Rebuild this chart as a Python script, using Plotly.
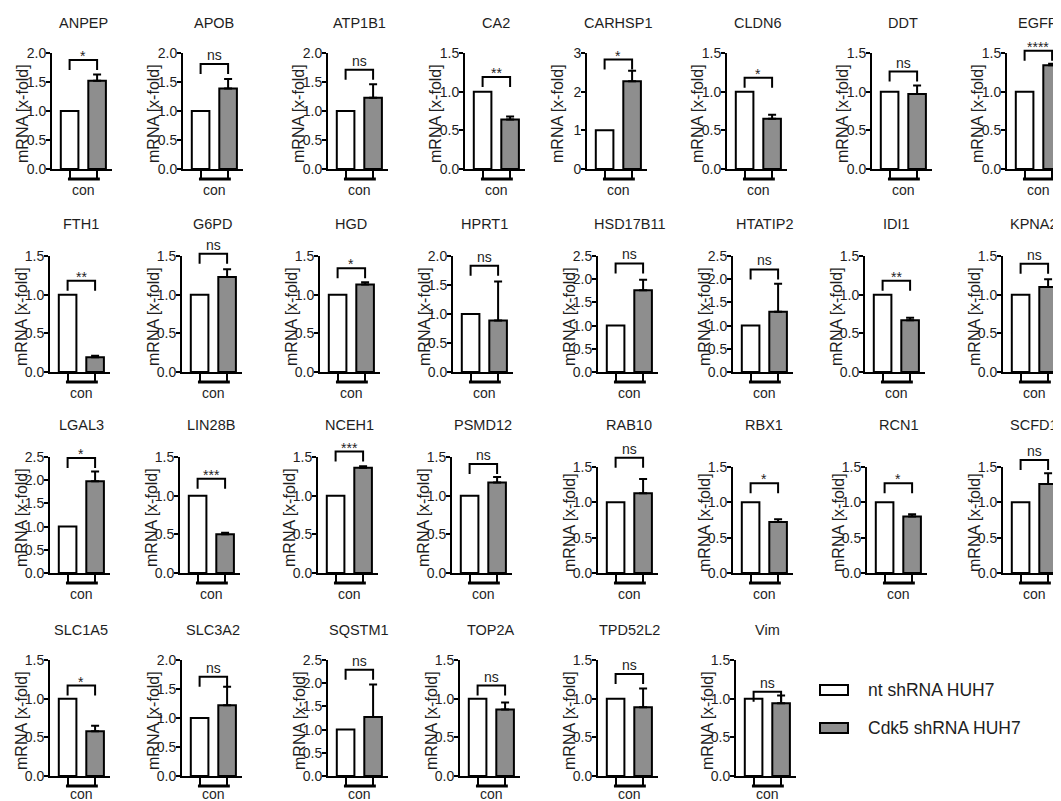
import plotly.graph_objects as go

# ---------------- data ----------------
genes = ["ANPEP", "APOB", "ATP1B1", "CA2", "CARHSP1", "CLDN6", "DDT", "EGFR",
         "FTH1", "G6PD", "HGD", "HPRT1", "HSD17B11", "HTATIP2", "IDI1", "KPNA2",
         "LGAL3", "LIN28B", "NCEH1", "PSMD12", "RAB10", "RBX1", "RCN1", "SCFD1",
         "SLC1A5", "SLC3A2", "SQSTM1", "TOP2A", "TPD52L2", "Vim"]
nt_values = [1.0] * 30
cdk5_values = [1.52, 1.39, 1.23, 0.64, 2.27, 0.65, 0.97, 1.34,
               0.19, 1.23, 1.13, 0.89, 1.76, 1.30, 0.67, 1.10,
               1.98, 0.50, 1.36, 1.17, 1.13, 0.72, 0.80, 1.26,
               0.58, 1.22, 1.27, 0.86, 0.89, 0.94]
cdk5_err = [0.11, 0.16, 0.23, 0.04, 0.27, 0.05, 0.11, 0.02,
            0.02, 0.10, 0.03, 0.67, 0.23, 0.60, 0.03, 0.10,
            0.21, 0.02, 0.02, 0.07, 0.20, 0.04, 0.03, 0.15,
            0.07, 0.32, 0.70, 0.09, 0.24, 0.10]
significance = ["*", "ns", "ns", "**", "*", "*", "ns", "****",
                "**", "ns", "*", "ns", "ns", "ns", "**", "ns",
                "*", "***", "***", "ns", "ns", "*", "*", "ns",
                "*", "ns", "ns", "ns", "ns", "ns"]
y_max = [2.0, 2.0, 2.0, 1.5, 3, 1.5, 1.5, 1.5,
         1.5, 1.5, 1.5, 2.0, 2.5, 2.5, 1.5, 1.5,
         2.5, 1.5, 1.5, 1.5, 1.5, 1.5, 1.5, 1.5,
         1.5, 2.0, 2.5, 1.5, 1.5, 1.5]
bracket_level = [1.88, 1.81, 1.71, 1.19, 2.83, 1.18, 1.26, 1.53,
                 1.18, 1.53, 1.34, 1.83, 2.34, 2.21, 1.18, 1.40,
                 2.48, 1.22, 1.57, 1.41, 1.63, 1.27, 1.27, 1.60,
                 1.17, 1.71, 2.29, 1.17, 1.32, 1.09]
group_label = "con"
series_names = ["nt shRNA HUH7", "Cdk5 shRNA HUH7"]

# ---------------- layout (screen pixels) ----------------
W, H = 1061, 801
OFF = 8  # page body margin of the html page
row_x = [[52, 183, 328, 465, 587, 727, 872, 1007],
         [50, 182, 320, 453, 598, 733, 865, 1003],
         [50, 180, 318, 452, 598, 733, 867, 1003],
         [50, 182, 328, 460, 598, 736]]
row_top = [[53] * 8, [256] * 8, [457] * 4 + [467] * 4, [660] * 6]
row_bottom = [169, 372, 573, 776]
row_title = [23, 224, 425, 630]
row_con_drop = [21, 21, 21, 18]

FONT = "Arial, 'Liberation Sans', Helvetica, sans-serif"
TXT = "#1e1e1e"
GRAY = "#8e8e8e"
PX_PER_UNIT = 27.5
XMIN = -0.64
PANEL_W = 60


def px_x(v):
    return (v - OFF) / W


def px_y(v):
    return 1 - (v - OFF) / H


fig = go.Figure()
layout = dict(width=W, height=H, margin=dict(l=0, r=0, t=0, b=0, autoexpand=False),
              paper_bgcolor="white", plot_bgcolor="white",
              showlegend=False, font=dict(family=FONT, color=TXT))
annotations = []
shapes = []

idx = 0
for r, xs in enumerate(row_x):
    for c, ax_px in enumerate(xs):
        i = idx
        n = i + 1
        xname = "x" if n == 1 else f"x{n}"
        yname = "y" if n == 1 else f"y{n}"
        top = row_top[r][c]
        bot = row_bottom[r]
        h_px = bot - top
        x0d = px_x(ax_px)
        x1d = min(1.0, px_x(ax_px + PANEL_W))
        w_px = (x1d - x0d) * W
        xmax = XMIN + w_px / PX_PER_UNIT
        ymx = y_max[i]

        layout["xaxis" if n == 1 else f"xaxis{n}"] = dict(
            domain=[x0d, x1d], range=[XMIN, xmax], anchor=yname, automargin=False,
            showline=True, linewidth=2, linecolor="black", showgrid=False,
            zeroline=False, ticks="outside", tickvals=[0, 1], ticklen=9,
            tickwidth=2, tickcolor="black", showticklabels=False, fixedrange=True)
        layout["yaxis" if n == 1 else f"yaxis{n}"] = dict(
            domain=[px_y(bot), px_y(top)], range=[0, ymx], anchor=xname,
            automargin=False,
            showline=True, linewidth=2, linecolor="black", showgrid=False,
            zeroline=False, ticks="outside", ticklen=4, tickwidth=2,
            tickcolor="black", dtick=1 if ymx == 3 else 0.5,
            tickformat="d" if ymx == 3 else ".1f", ticklabelstandoff=-3,
            tickfont=dict(size=14, family=FONT, color=TXT), fixedrange=True)

        # bars
        fig.add_trace(go.Bar(x=[0], y=[nt_values[i]], width=0.64,
                             marker=dict(color="white", line=dict(color="black", width=2)),
                             xaxis=xname, yaxis=yname, name=series_names[0],
                             hoverinfo="skip"))
        fig.add_trace(go.Bar(x=[1], y=[cdk5_values[i]], width=0.64,
                             marker=dict(color=GRAY, line=dict(color="black", width=2)),
                             error_y=dict(type="data", symmetric=False,
                                          array=[cdk5_err[i]], arrayminus=[0],
                                          color="black", thickness=2, width=4),
                             xaxis=xname, yaxis=yname, name=series_names[1],
                             hoverinfo="skip"))

        # helpers: data -> axis-domain fraction (for unclipped annotations)
        def dx(v, xmax=xmax):
            return (v - XMIN) / (xmax - XMIN)

        def dy(v, ymx=ymx):
            return v / ymx

        xdr, ydr = f"{xname} domain", f"{yname} domain"
        # significance bracket
        b = bracket_level[i]
        leg_frac = 10 / h_px
        shapes.append(dict(type="path", xref=xdr, yref=ydr,
                           path=(f"M{dx(0)},{dy(b) - leg_frac} L{dx(0)},{dy(b)} "
                                 f"L{dx(1)},{dy(b)} L{dx(1)},{dy(b) - leg_frac}"),
                           line=dict(color="black", width=2)))
        sig = significance[i]
        star = sig != "ns"
        annotations.append(dict(text=sig, xref=xdr, yref=ydr, x=dx(0.5), y=dy(b),
                                xanchor="center", yanchor="bottom",
                                yshift=-6 if star else -1, showarrow=False,
                                font=dict(size=14, family=FONT, color=TXT)))
        # group underline + label
        shapes.append(dict(type="line", xref=xdr, yref=ydr,
                           x0=dx(-0.06), x1=dx(1.1), y0=-10 / h_px, y1=-10 / h_px,
                           line=dict(color="black", width=3)))
        annotations.append(dict(text=group_label, xref=xdr, yref=ydr, x=dx(0.5),
                                y=-row_con_drop[r] / h_px, xanchor="center",
                                yanchor="middle", showarrow=False,
                                font=dict(size=14, family=FONT, color=TXT)))

        # panel title
        annotations.append(dict(text=genes[i], xref="paper", yref="paper",
                                x=px_x(ax_px + (0.5 - XMIN) * PX_PER_UNIT),
                                y=px_y(row_title[r]), xanchor="center",
                                yanchor="middle", showarrow=False,
                                font=dict(size=14.5, family=FONT, color=TXT)))
        # y-axis title
        annotations.append(dict(text="mRNA [x-fold]", xref="paper", yref="paper",
                                x=px_x(ax_px - 29), y=px_y((top + bot) / 2 + 3),
                                xanchor="center", yanchor="middle", textangle=-90,
                                showarrow=False,
                                font=dict(size=16, family=FONT, color=TXT)))
        idx += 1

# legend (drawn manually to match the wide swatches)
leg_items = [(series_names[0], "white", 690), (series_names[1], GRAY, 728)]
for name, col, yc in leg_items:
    shapes.append(dict(type="rect", xref="paper", yref="paper",
                       x0=px_x(820), x1=px_x(848), y0=px_y(yc + 5), y1=px_y(yc - 5),
                       fillcolor=col, line=dict(color="black", width=2)))
    annotations.append(dict(text=name, xref="paper", yref="paper", x=px_x(866),
                            y=px_y(yc), xanchor="left", yanchor="middle",
                            showarrow=False, font=dict(size=17.5, family=FONT, color=TXT)))

layout["annotations"] = annotations
layout["shapes"] = shapes
fig.update_layout(**layout)
fig.write_html("out.html")
